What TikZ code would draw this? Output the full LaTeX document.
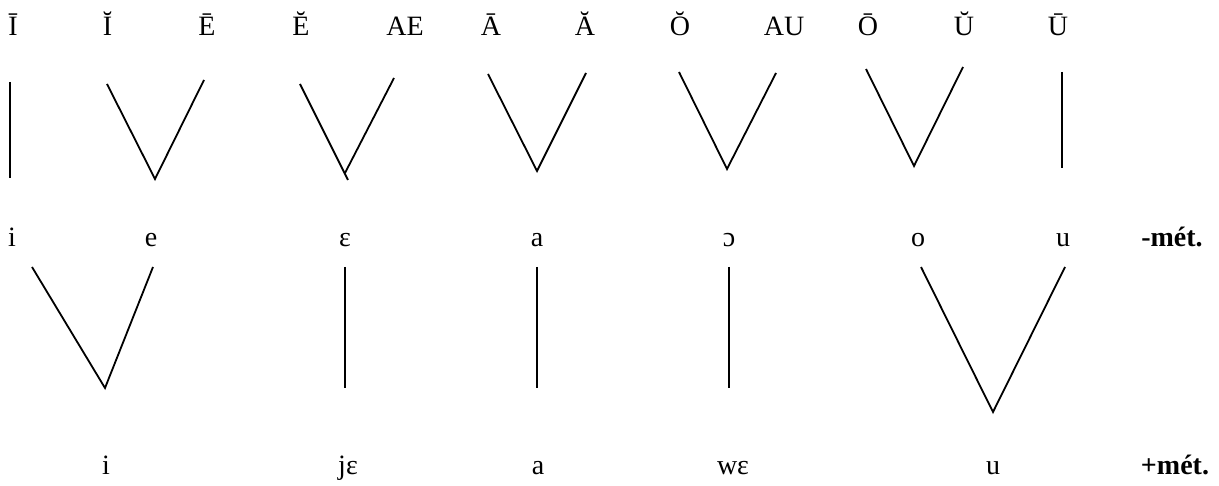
\documentclass[tikz,border=0pt]{standalone}
\usepackage{fontspec}
\setmainfont{Liberation Serif}

\begin{document}
\begin{tikzpicture}[x=1pt,y=-1pt]
\tikzstyle{vowel}=[anchor=base,inner sep=0pt,font=\fontsize{28}{32}\selectfont]
\tikzstyle{met}=[vowel,font=\fontsize{28}{32}\selectfont\bfseries]
\tikzstyle{branch}=[black,line width=1.8pt]
\useasboundingbox (0,0) rectangle (1219,486);
\draw (13,36) node [vowel] (Ilong) {Ī};
\draw (107.5,36) node [vowel] (Ishort) {Ĭ};
\draw (207,36) node [vowel] (Elong) {Ē};
\draw (301,36) node [vowel] (Eshort) {Ĕ};
\draw (405,36) node [vowel] (AE) {AE};
\draw (491,36) node [vowel] (Along) {Ā};
\draw (585,36) node [vowel] (Ashort) {Ă};
\draw (680,36) node [vowel] (Oshort) {Ŏ};
\draw (784,36) node [vowel] (AU) {AU};
\draw (868,36) node [vowel] (Olong) {Ō};
\draw (964,36) node [vowel] (Ushort) {Ŭ};
\draw (1058,36) node [vowel] (Ulong) {Ū};
\coordinate (Ilong-t) at (10,82);
\coordinate (Ilong-b) at (10,178);
\draw [branch] (Ilong-t) -- (Ilong-b);
\coordinate (Ishort-t) at (107,84);
\coordinate (e-up) at (155,179);
\coordinate (Elong-t) at (204,80);
\draw [branch] (Ishort-t) -- (e-up) -- (Elong-t);
\coordinate (Eshort-t) at (300,84);
\coordinate (Eshort-b) at (348,180);
\coordinate (AE-t) at (394,78);
\coordinate (AE-b) at (345,173);
\draw [branch] (Eshort-t) -- (Eshort-b);
\draw [branch] (AE-t) -- (AE-b);
\coordinate (Along-t) at (488,74);
\coordinate (a-up) at (537,171);
\coordinate (Ashort-t) at (586,73);
\draw [branch] (Along-t) -- (a-up) -- (Ashort-t);
\coordinate (Oshort-t) at (679,72);
\coordinate (oo-up) at (727,169);
\coordinate (AU-t) at (776,73);
\draw [branch] (Oshort-t) -- (oo-up) -- (AU-t);
\coordinate (Olong-t) at (866,69);
\coordinate (o-up) at (914,166);
\coordinate (Ushort-t) at (963,67);
\draw [branch] (Olong-t) -- (o-up) -- (Ushort-t);
\coordinate (Ulong-t) at (1062,72);
\coordinate (Ulong-b) at (1062,168);
\draw [branch] (Ulong-t) -- (Ulong-b);
\draw (12,247) node [vowel] (i) {i};
\draw (151,247) node [vowel] (e) {e};
\draw (345,247) node [vowel] (eps) {ɛ};
\draw (537,247) node [vowel] (a) {a};
\draw (729,247) node [vowel] (oo) {ɔ};
\draw (918,247) node [vowel] (o) {o};
\draw (1063,247) node [vowel] (u) {u};
\draw (1172,247) node [met] (minus) {-mét.};
\coordinate (i-t) at (32,267);
\coordinate (i-b) at (105,388);
\coordinate (e-t) at (153,267);
\draw [branch] (i-t) -- (i-b) -- (e-t);
\coordinate (eps-t) at (345,267);
\coordinate (eps-b) at (345,388);
\draw [branch] (eps-t) -- (eps-b);
\coordinate (a-t) at (537,267);
\coordinate (a-b) at (537,388);
\draw [branch] (a-t) -- (a-b);
\coordinate (oo-t) at (729,267);
\coordinate (oo-b) at (729,388);
\draw [branch] (oo-t) -- (oo-b);
\coordinate (o-t) at (921,267);
\coordinate (u-b) at (993,412);
\coordinate (u-t) at (1065,267);
\draw [branch] (o-t) -- (u-b) -- (u-t);
\draw (106,475) node [vowel] (ii) {i};
\draw (348,475) node [vowel] (je) {jɛ};
\draw (538,475) node [vowel] (aa) {a};
\draw (733,475) node [vowel] (we) {wɛ};
\draw (993,475) node [vowel] (uu) {u};
\draw (1175,475) node [met] (plus) {+mét.};
\end{tikzpicture}
\end{document}
